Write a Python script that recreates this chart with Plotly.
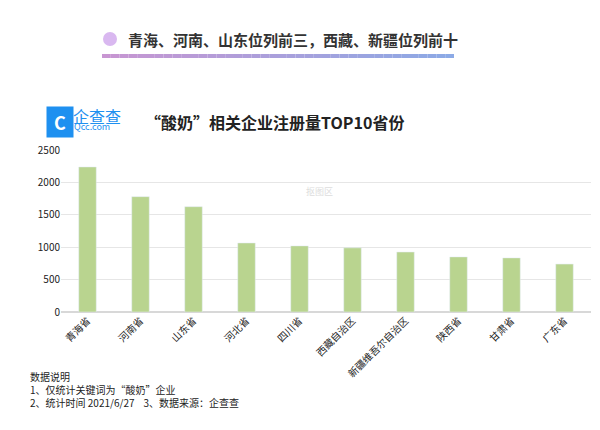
import plotly.graph_objects as go

provinces = ["青海省","河南省","山东省","河北省","四川省","西藏自治区","新疆维吾尔自治区","陕西省","甘肃省","广东省"]
counts = [2238, 1780, 1625, 1065, 1020, 990, 925, 850, 835, 740]
y_ticks = [0, 500, 1000, 1500, 2000, 2500]

W, H = 600, 430
OFF = 7
L, T = 60 - OFF, 149 - OFF
PW, PH = 530, 162
R, B = W - L - PW, H - T - PH
F = "Noto Sans CJK SC"
fig = go.Figure(go.Bar(x=provinces, y=counts, marker_color="#b9d48f", width=0.33))

def px(x): return (x - OFF - L) / PW
def py(y): return (T + PH - (y - OFF)) / PH

shapes = []
n = 40
x0, x1 = 101, 453
for i in range(n):
    t = i / (n - 1)
    r = int(200 + (140 - 200) * t); g = int(150 + (170 - 150) * t); b = int(210 + (230 - 210) * t)
    shapes.append(dict(type="rect", xref="paper", yref="paper",
                       x0=px(x0 + (x1 - x0) * i / n), x1=px(x0 + (x1 - x0) * (i + 1) / n),
                       y0=py(57), y1=py(53), line_width=0, fillcolor=f"rgb({r},{g},{b})"))
shapes.append(dict(type="circle", xref="paper", yref="paper", x0=px(102), x1=px(116),
                   y0=py(45), y1=py(31), line_width=0, fillcolor="#d9b8f0"))

fig.update_layout(
    width=W, height=H, margin=dict(l=L, r=R, t=T, b=B, autoexpand=False),
    paper_bgcolor="white", plot_bgcolor="white", showlegend=False,
    font=dict(family=F, size=10, color="#222"),
    xaxis=dict(tickangle=-45, tickfont=dict(size=10, color="#222"), showline=False, ticks="",
               automargin=False),
    yaxis=dict(range=[0, 2500], tickvals=y_ticks, gridcolor="#e6e6e6", zeroline=True,
               zerolinecolor="#d8d8d8", tickfont=dict(size=10, color="#222"), automargin=False),
    shapes=shapes,
    annotations=[
        dict(text="<b>青海、河南、山东位列前三，西藏、新疆位列前十</b>", xref="paper", yref="paper",
             x=px(125), y=py(38), xanchor="left", yanchor="middle", showarrow=False,
             font=dict(size=15, color="#333")),
        dict(text="<b>C</b>", xref="paper", yref="paper", x=px(45), y=py(105), showarrow=False,
             bgcolor="#1e90f0", width=24, height=28, font=dict(size=18, color="white")),
        dict(text="企查查", xref="paper", yref="paper", x=px(70), y=py(101), xanchor="left",
             showarrow=False, font=dict(size=16, color="#1e90f0")),
        dict(text="Qcc.com", xref="paper", yref="paper", x=px(71), y=py(117), xanchor="left",
             showarrow=False, font=dict(size=9, color="#1e90f0")),
        dict(text="<b>“酸奶”相关企业注册量TOP10省份</b>", xref="paper", yref="paper",
             x=px(142), y=py(107), xanchor="left", showarrow=False, font=dict(size=16, color="#222")),
        dict(text="抠图区", xref="paper", yref="paper", x=px(318), y=py(182), showarrow=False,
             font=dict(size=9, color="#dddddd")),
        dict(text="数据说明<br>1、仅统计关键词为“酸奶”企业<br>2、统计时间 2021/6/27    3、数据来源：企查查",
             xref="paper", yref="paper", x=px(27), y=py(366), xanchor="left", yanchor="top",
             align="left", showarrow=False, font=dict(size=10, color="#222")),
    ],
)
fig.write_html("out.html")
